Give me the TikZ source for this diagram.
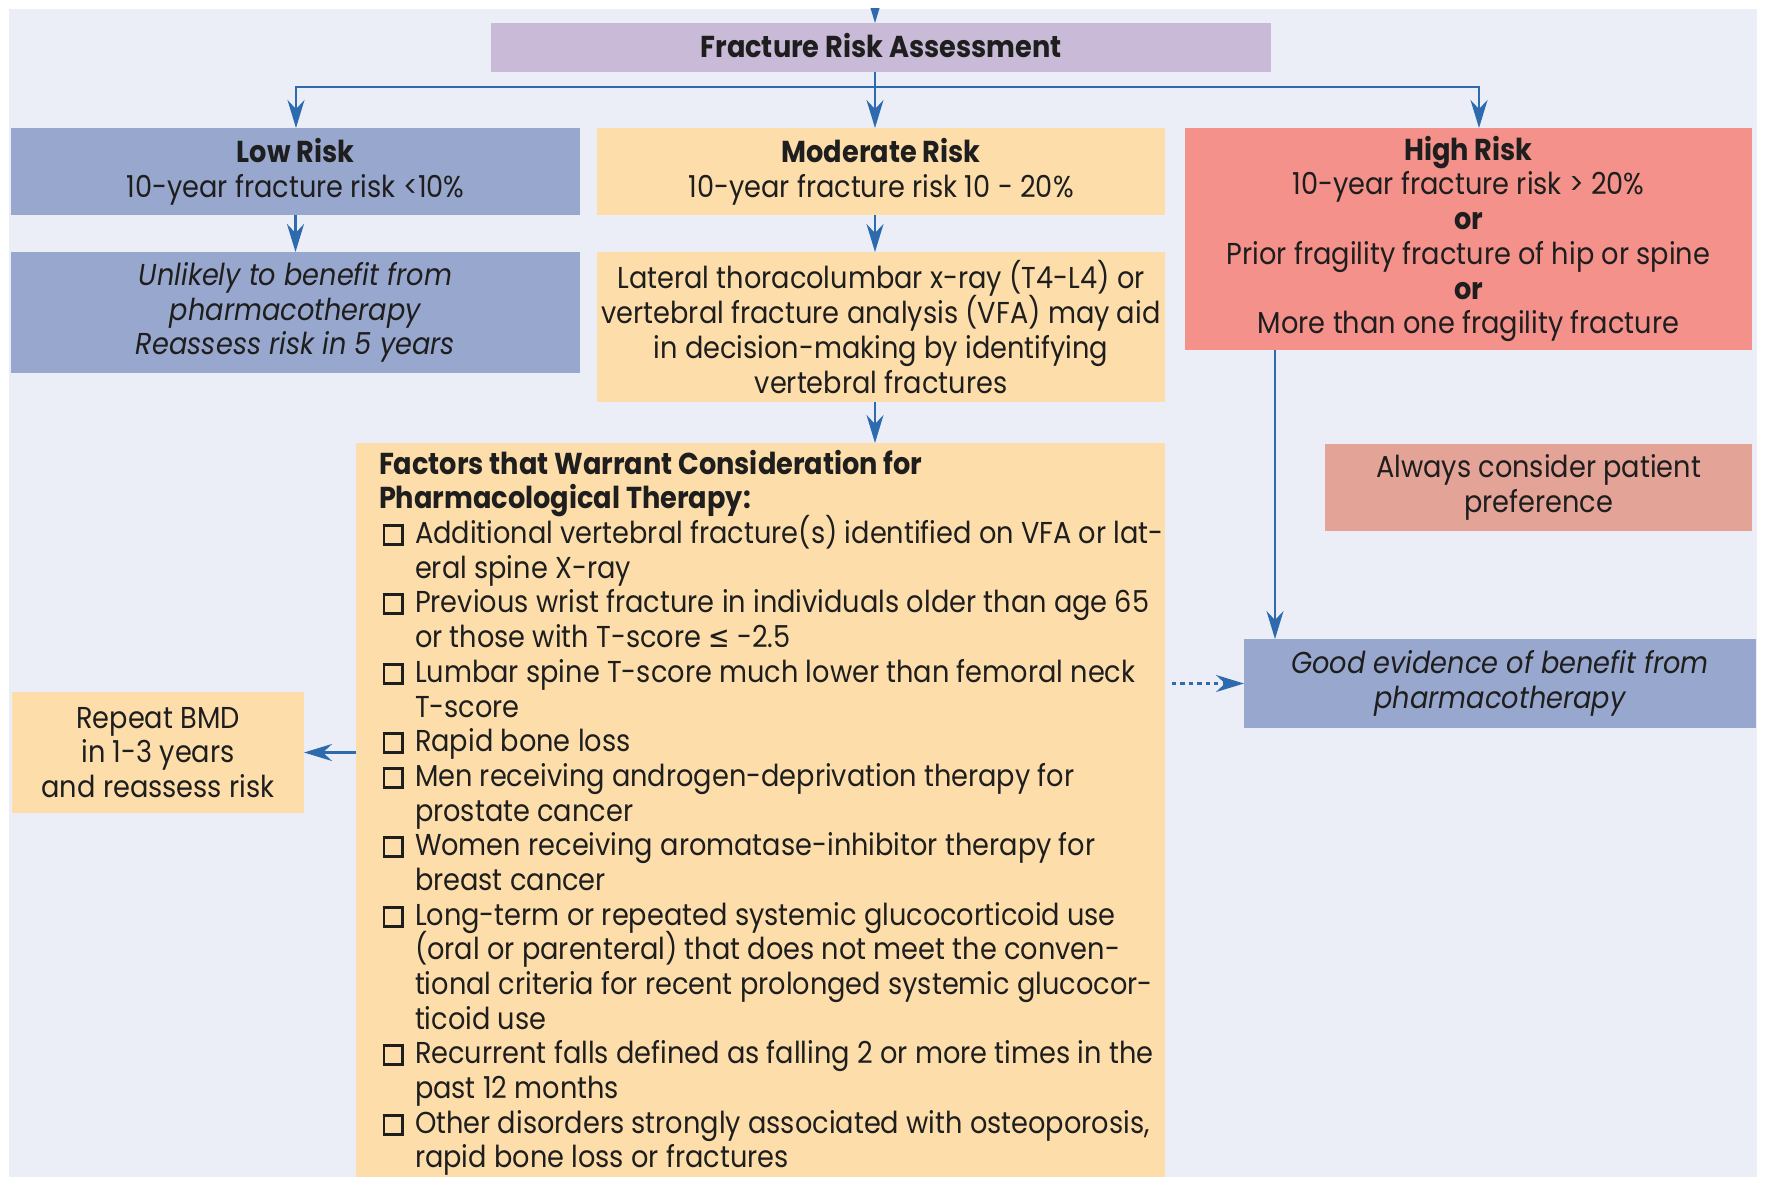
\documentclass[tikz,border=0pt]{standalone}
\usepackage{fontspec}
\setmainfont{Poppins}[FakeStretch=0.9]
\newfontfamily\djv{DejaVu Sans}[FakeStretch=0.85]
\usetikzlibrary{arrows.meta}
\definecolor{bgc}{HTML}{EBEEF6}
\definecolor{lav}{HTML}{C9BBD7}
\definecolor{slate}{HTML}{98A7CD}
\definecolor{peach}{HTML}{FDDEAA}
\definecolor{hired}{HTML}{F3918A}
\definecolor{pinkb}{HTML}{E3A397}
\definecolor{arrc}{HTML}{2E6BAE}
\definecolor{txt}{HTML}{1E1E1E}
\newcommand\fs{\fontsize{8.6pt}{9.87pt}\selectfont\lineskiplimit=-20pt\relax}
\newcommand\ckbx{\makebox[3.6mm][l]{\hspace{0.35mm}\raisebox{0.05mm}{\fboxsep=0pt\fboxrule=0.85pt\fbox{\rule{0pt}{1.6mm}\rule{1.6mm}{0pt}}}}}
\newcommand\indt{\hspace*{3.6mm}}
\begin{document}
\begin{tikzpicture}[x=0.1mm,y=-0.1mm,
  box/.style={draw=none, inner sep=0pt, outer sep=0pt, align=center, font=\fs, text=txt},
  arr/.style={draw=arrc, line width=0.65pt, -{Stealth[length=2.8mm,width=1.7mm,inset=0.9mm]}}]
\useasboundingbox (0,0) rectangle (1765,1177);
\fill[white] (0,0) rectangle (1765,1177);
\fill[bgc] (9,9) rectangle (1757,1177);

\node[box, fill=lav, minimum width=78mm, minimum height=4.9mm, font=\fs\bfseries] (fra) at (881,47.5) {\raisebox{0.35mm}{Fracture Risk Assessment}};

\node[box, fill=slate, minimum width=56.9mm, minimum height=8.7mm] (low1) at (295.5,171.5) {\textbf{Low Risk}\\10-year fracture risk <10\%};
\node[box, fill=slate, minimum width=56.9mm, minimum height=12.1mm, font=\fs\itshape] (low2) at (295.5,312.5) {Unlikely to benefit from\\pharmacotherapy\\Reassess risk in 5 years};

\node[box, fill=peach, minimum width=56.8mm, minimum height=8.7mm] (mod1) at (881,171.5) {\textbf{Moderate Risk}\\10-year fracture risk 10 - 20\%};
\node[box, fill=peach, minimum width=56.8mm, minimum height=15mm] (mod2) at (881,327) {Lateral thoracolumbar x-ray (T4-L4) or\\vertebral fracture analysis (VFA) may aid\\in decision-making by identifying\\vertebral fractures};

\node[box, fill=hired, minimum width=56.7mm, minimum height=22.2mm] (high) at (1468.5,239) {\textbf{High Risk}\\10-year fracture risk > 20\%\\\textbf{or}\\Prior fragility fracture of hip or spine\\\textbf{or}\\More than one fragility fracture};

\node[box, fill=pinkb, minimum width=42.7mm, minimum height=8.7mm] (alw) at (1538.5,487.5) {Always consider patient\\preference};

\node[box, fill=slate, minimum width=51.2mm, minimum height=8.9mm, font=\fs\itshape] (good) at (1500,683.5) {Good evidence of benefit from\\pharmacotherapy};

\node[box, fill=peach, minimum width=29.2mm, minimum height=12.1mm] (rep) at (158,752.5) {Repeat BMD\\in 1-3 years\\and reassess risk};

\node[box, fill=peach, minimum width=80.9mm, minimum height=73.4mm] (fac) at (760.5,810) {};
\node[box, align=left, anchor=north west] (factxt) at (379,450) {\textbf{Factors that Warrant Consideration for}\\
\textbf{Pharmacological Therapy:}\\
\ckbx Additional vertebral fracture(s) identified on VFA or lat-\\
\indt eral spine X-ray\\
\ckbx Previous wrist fracture in individuals older than age 65\\
\indt or those with T-score {\djv ≤} -2.5\\
\ckbx Lumbar spine T-score much lower than femoral neck\\
\indt T-score\\
\ckbx Rapid bone loss\\
\ckbx Men receiving androgen-deprivation therapy for\\
\indt prostate cancer\\
\ckbx Women receiving aromatase-inhibitor therapy for\\
\indt breast cancer\\
\ckbx Long-term or repeated systemic glucocorticoid use\\
\indt (oral or parenteral) that does not meet the conven-\\
\indt tional criteria for recent prolonged systemic glucocor-\\
\indt ticoid use\\
\ckbx Recurrent falls defined as falling 2 or more times in the\\
\indt past 12 months\\
\ckbx Other disorders strongly associated with osteoporosis,\\
\indt rapid bone loss or fractures};

% connectors
\coordinate (jc) at (875,87);
\coordinate (jl) at (296,87);
\coordinate (jr) at (1479,87);
\coordinate (topin) at (875,-30);
\coordinate (hx) at (1275,0);
\coordinate (ds) at (1172,683.5);
\begin{scope}
\clip (9,9) rectangle (1757,1177);
\draw[arr] (topin) -- (fra.north -| topin);
\end{scope}
\draw[arr] (fra.south -| jc) -- (mod1.north -| jc);
\draw[arr] (jc) -- (jl) -- (low1.north -| jl);
\draw[arr] (jc) -- (jr) -- (high.north -| jr);
\draw[arr] (low1.south) -- (low2.north);
\draw[arr] (mod1.south -| jc) -- (mod2.north -| jc);
\draw[arr] (mod2.south -| jc) -- (fac.north -| jc);
\draw[arr] (high.south -| hx) -- (good.north -| hx);
\draw[arr, dash pattern=on 1.2pt off 1.2pt] (ds) -- (good.west);
\draw[arr] (fac.west |- rep.east) -- (rep.east);
\end{tikzpicture}
\end{document}
